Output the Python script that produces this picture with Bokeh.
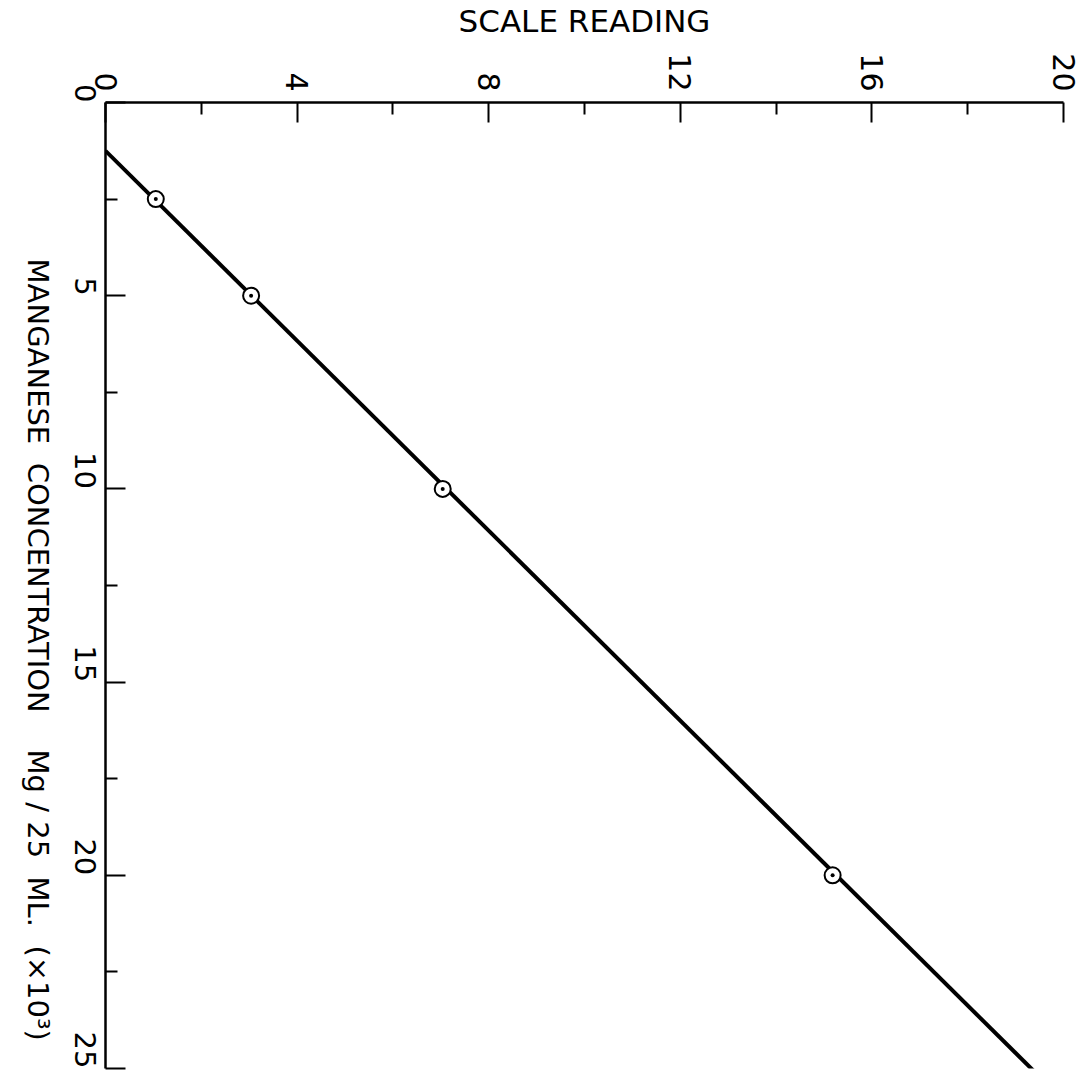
import math

from bokeh.embed import file_html
from bokeh.models import FixedTicker, Range1d
from bokeh.plotting import figure
from bokeh.resources import INLINE

# Calibration readings: scale reading vs. manganese standard
scale_reading = [1.05, 3.04, 7.04, 15.18]
manganese = [2.5, 5.0, 10.0, 20.0]

# Fitted calibration line (end points)
fit_scale = [0.0, 19.44]
fit_manganese = [1.25, 25.14]

# Axis ticks
x_major = [0, 4, 8, 12, 16, 20]
x_minor = [2, 6, 10, 14, 18]
y_major = [0, 5, 10, 15, 20, 25]
y_minor = [2.5, 7.5, 12.5, 17.5, 22.5]

FONT = "DejaVu Sans"
NB = "\u00a0"
# non-breaking spaces keep the wide lettering gaps (and lift the end off the bottom)
Y_TITLE = ("MANGANESE" + NB * 2 + "CONCENTRATION" + NB * 4 + "Mg" + NB + "/"
           + NB + "25" + NB * 2 + "ML." + NB * 2 + "(×10³)" + NB * 3)

p = figure(
    width=1086,
    height=1091,
    x_range=Range1d(0, 20),
    y_range=Range1d(25, 0),
    x_axis_location="above",
    y_axis_location="left",
    output_backend="svg",
    toolbar_location=None,
    min_border_left=103,
    min_border_top=99,
    min_border_right=23,
    min_border_bottom=23,
)
p.outline_line_color = None
p.grid.visible = False
p.background_fill_color = "white"
p.border_fill_color = "white"

# calibration line and measured points
p.line(fit_scale, fit_manganese, line_width=4, line_color="black")
p.scatter(scale_reading, manganese, marker="circle_dot", size=16,
          fill_color="white", line_color="black", line_width=2)

# top axis: scale reading
xa = p.xaxis[0]
xa.ticker = FixedTicker(ticks=x_major, minor_ticks=x_minor)
xa.axis_label = "SCALE READING"
xa.axis_label_text_font = FONT
xa.axis_label_text_font_style = "normal"
xa.axis_label_text_font_size = "31px"
xa.axis_label_text_color = "black"
xa.axis_label_standoff = 11
xa.major_label_orientation = -math.pi / 2
xa.major_label_text_font = FONT
xa.major_label_text_font_size = "30px"
xa.major_label_text_color = "black"
xa.major_label_standoff = 11

# left axis: manganese concentration, title reading downwards
ya = p.yaxis[0]
ya.ticker = FixedTicker(ticks=y_major, minor_ticks=y_minor)
ya.major_label_orientation = -math.pi / 2
ya.major_label_text_font = FONT
ya.major_label_text_font_size = "29px"
ya.major_label_text_color = "black"
ya.major_label_standoff = 20
ya.axis_label = Y_TITLE
ya.axis_label_orientation = -math.pi / 2
ya.axis_label_align = "end"
ya.axis_label_text_font = FONT
ya.axis_label_text_font_style = "normal"
ya.axis_label_text_font_size = "29px"
ya.axis_label_text_color = "black"
ya.axis_label_standoff = 24

for ax in (xa, ya):
    ax.axis_line_width = 2.5
    ax.axis_line_color = "black"
    ax.major_tick_in = 20
    ax.major_tick_out = 0
    ax.minor_tick_in = 12
    ax.minor_tick_out = 0
    ax.major_tick_line_width = 2
    ax.minor_tick_line_width = 2
    ax.major_tick_line_color = "black"
    ax.minor_tick_line_color = "black"

open("out.html", "w").write(file_html(p, INLINE))
